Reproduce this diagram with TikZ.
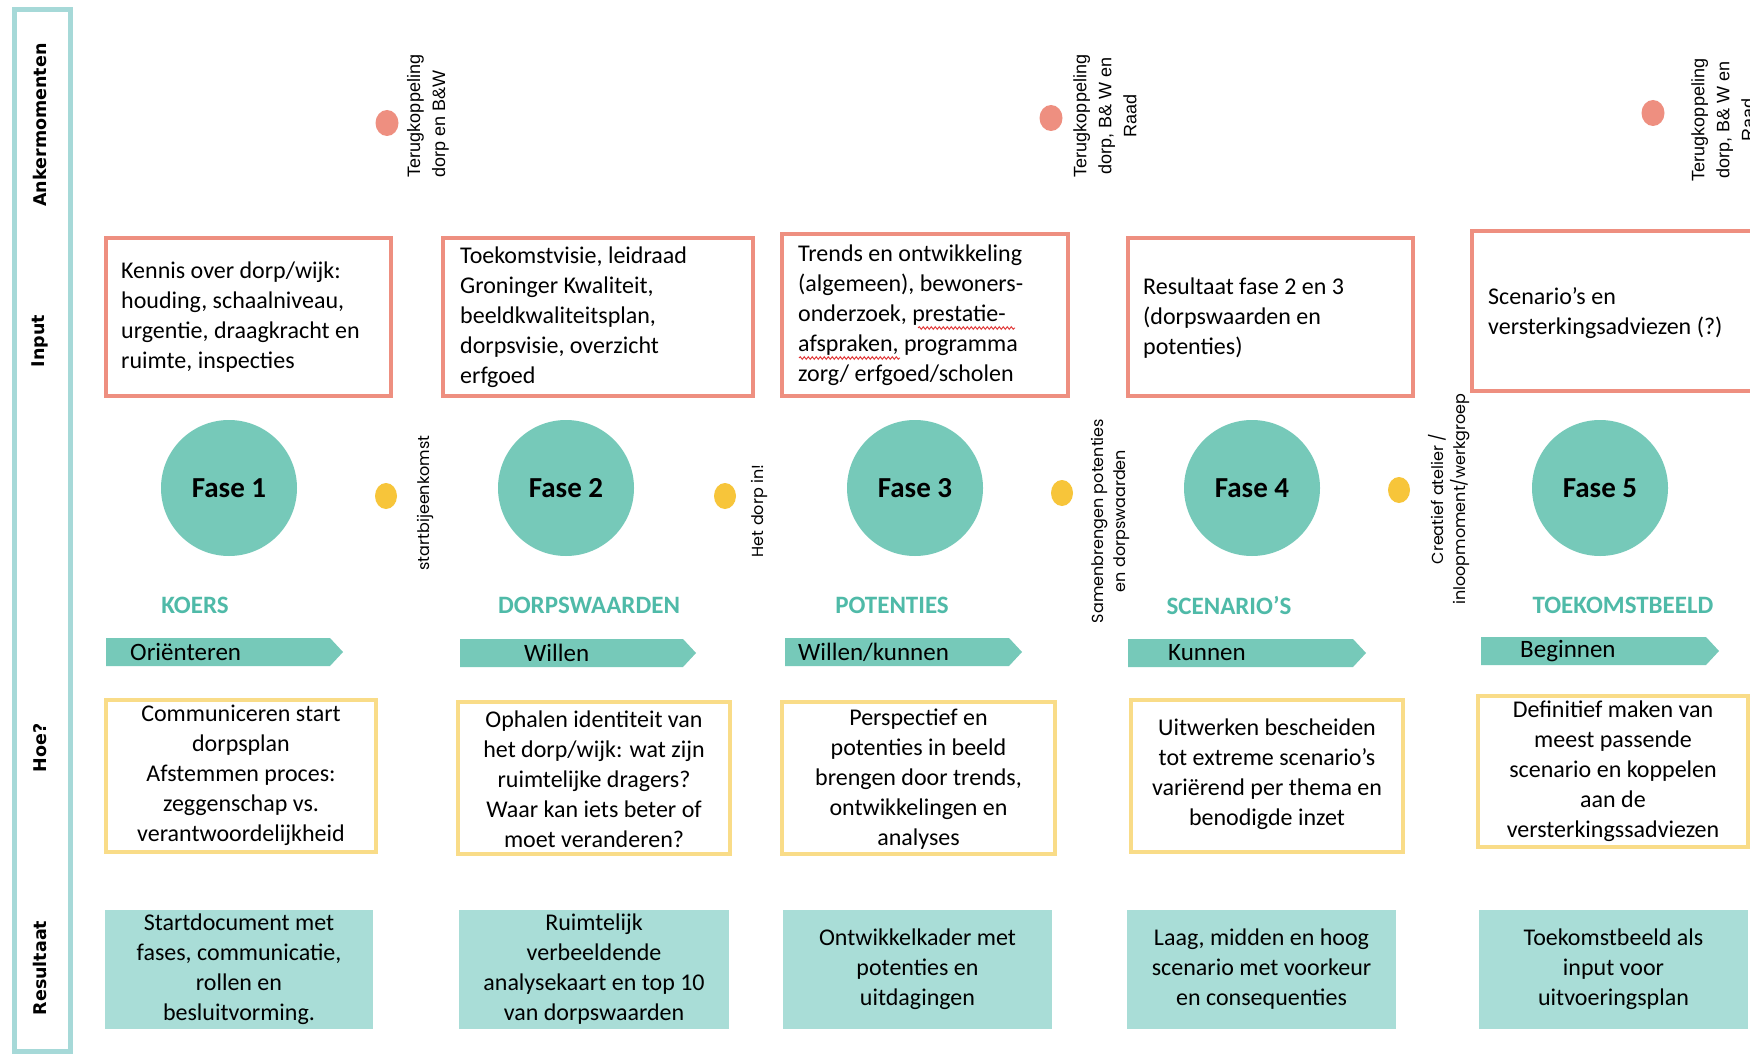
\documentclass[tikz,border=0pt]{standalone}
\usepackage{fontspec}
\setmainfont{Carlito}
\newfontfamily\labfont{DejaVu Sans}
\newfontfamily\geofont{Poppins}
\newfontfamily\arialfont{Liberation Sans}
\usetikzlibrary{shapes.geometric,decorations.pathmorphing}
\definecolor{salmon}{HTML}{EE8F80}
\definecolor{tealc}{HTML}{76C9B9}
\definecolor{tealtext}{HTML}{4FBAA8}
\definecolor{resfill}{HTML}{A9DDD7}
\definecolor{sidebarc}{HTML}{A6D9D8}
\definecolor{yline}{HTML}{F9DC88}
\definecolor{ydot}{HTML}{F7C53A}
\definecolor{squig}{HTML}{E03030}
\tikzset{
  sidelab/.style={rotate=90, inner sep=0pt, font={\labfont\bfseries\fontsize{17.5}{20}\selectfont}},
  reddot/.style={ellipse, fill=salmon, draw=none, minimum width=23, minimum height=26, inner sep=0pt},
  yeldot/.style={ellipse, fill=ydot, draw=none, minimum width=22, minimum height=26, inner sep=0pt},
  ankerlab/.style={rotate=90, inner sep=0pt, font={\arialfont\fontsize{18}{25}\selectfont}},
  momlab/.style={rotate=90, inner sep=0pt, align=center, font={\geofont\fontsize{16}{22}\selectfont}},
  inbox/.style={rectangle, draw=salmon, line width=3.5pt, fill=white, inner sep=0pt},
  intext/.style={anchor=west, inner sep=0pt, align=left, font={\fontsize{24}{30}\selectfont}},
  fase/.style={circle, fill=tealc, draw=none, minimum size=136, inner sep=0pt, font={\bfseries\fontsize{29}{34}\selectfont}},
  fasename/.style={inner sep=0pt, text=tealtext, font={\bfseries\fontsize{25}{30}\selectfont}},
  bantext/.style={anchor=west, inner sep=0pt, font={\fontsize{25}{30}\selectfont}},
  hoebox/.style={rectangle, draw=yline, line width=3.5pt, fill=white, inner sep=0pt},
  resbox/.style={rectangle, fill=resfill, draw=none, inner sep=0pt},
  boxtext/.style={inner sep=0pt, align=center, font={\fontsize{24}{30}\selectfont}},
  wavy/.style={draw=squig, line width=0.9pt, decorate, decoration={snake, amplitude=1.3pt, segment length=4pt}},
}
\begin{document}
\begin{tikzpicture}[x=1pt,y=-1pt]
\useasboundingbox (0,0) rectangle (1750,1054);
\fill[white] (0,0) rectangle (1750,1054);

% side bar
\draw[sidebarc, line width=5pt] (14.5,9.5) rectangle (70.5,1051);
\node[sidelab] (lanker) at (40,125) {Ankermomenten};
\node[sidelab] (linput) at (40,341) {Input};
\node[sidelab] (lhoe) at (40,748) {Hoe?};
\node[sidelab] (lres) at (40,968) {Resultaat};

% ankermomenten
\node[reddot] (rd1) at (387,123) {};
\node[reddot] (rd2) at (1051,118) {};
\node[reddot] (rd3) at (1653,113) {};
\node[ankerlab, align=left] (ra1) at (428,116) {Terugkoppeling\\dorp en B\&W};
\node[ankerlab, align=center] (ra2) at (1105,116) {Terugkoppeling\\dorp, B\& W en\\Raad};
\node[ankerlab, align=center] (ra3) at (1723,120) {Terugkoppeling\\dorp, B\& W en\\Raad};

% input boxes
\node[inbox, minimum width=285, minimum height=158] (in1) at (248.5,317) {};
\node[inbox, minimum width=310, minimum height=158] (in2) at (598,317) {};
\node[inbox, minimum width=286, minimum height=162] (in3) at (925,315) {};
\node[inbox, minimum width=285, minimum height=158] (in4) at (1270.5,317) {};
\node[inbox, minimum width=288, minimum height=160] (in5) at (1616,311) {};
\node[intext] (in1t) at (121,317) {Kennis over dorp/wijk:\\houding, schaalniveau,\\urgentie, draagkracht en\\ruimte, inspecties};
\node[intext] (in2t) at (460,317) {Toekomstvisie, leidraad\\Groninger Kwaliteit,\\beeldkwaliteitsplan,\\dorpsvisie, overzicht\\erfgoed};
\node[intext] (in3t) at (798,315) {Trends en ontwikkeling\\(algemeen), bewoners-\\onderzoek, prestatie-\\afspraken, programma\\zorg/ erfgoed/scholen};
\node[intext] (in4t) at (1143,318) {Resultaat fase 2 en 3\\(dorpswaarden en\\potenties)};
\node[intext] (in5t) at (1488,313) {Scenario’s en\\versterkingsadviezen (?)};
\draw[wavy] (918,328) -- (1015,328);
\draw[wavy] (799,358) -- (900,358);

% phases
\node[fase] (f1) at (229,488) {Fase 1};
\node[fase] (f2) at (566,488) {Fase 2};
\node[fase] (f3) at (915,488) {Fase 3};
\node[fase] (f4) at (1252,488) {Fase 4};
\node[fase] (f5) at (1600,488) {Fase 5};

% moments between phases
\node[yeldot] (yd1) at (386,496) {};
\node[yeldot] (yd2) at (725,496) {};
\node[yeldot] (yd3) at (1062,493) {};
\node[yeldot] (yd4) at (1399,490) {};
\node[momlab] (ym1) at (425,503) {startbijeenkomst};
\node[momlab] (ym2) at (759,511) {Het dorp in!};
\node[momlab] (ym3) at (1110,521) {Samenbrengen potenties\\en dorpswaarden};
\node[momlab] (ym4) at (1449,499) {Creatief atelier /\\inloopmoment/werkgroep};

% phase names
\node[fasename] (n1) at (195,605) {KOERS};
\node[fasename] (n2) at (589,605) {DORPSWAARDEN};
\node[fasename] (n3) at (892,605) {POTENTIES};
\node[fasename] (n4) at (1229,605) {SCENARIO’S};
\node[fasename] (n5) at (1623,605) {TOEKOMSTBEELD};

% banners
\fill[tealc] (106,638) -- (330,638) -- (343,652) -- (330,666) -- (106,666) -- cycle;
\fill[tealc] (460,639) -- (683,639) -- (696,653) -- (683,667) -- (460,667) -- cycle;
\fill[tealc] (785,638) -- (1009,638) -- (1022,652) -- (1009,666) -- (785,666) -- cycle;
\fill[tealc] (1128,639) -- (1353,639) -- (1366,653) -- (1353,667) -- (1128,667) -- cycle;
\fill[tealc] (1481,637) -- (1706,637) -- (1719,651) -- (1706,665) -- (1481,665) -- cycle;
\node[bantext] (b1) at (130,652) {Oriënteren};
\node[bantext] (b2) at (524,653) {Willen};
\node[bantext] (b3) at (798,652) {Willen/kunnen};
\node[bantext] (b4) at (1168,653) {Kunnen};
\node[bantext] (b5) at (1520,651) {Beginnen};

% hoe boxes
\node[hoebox, minimum width=270, minimum height=152] (h1) at (241,776) {};
\node[hoebox, minimum width=272, minimum height=152] (h2) at (594,778) {};
\node[hoebox, minimum width=273, minimum height=152] (h3) at (918.5,778) {};
\node[hoebox, minimum width=272, minimum height=152] (h4) at (1267,776) {};
\node[hoebox, minimum width=270, minimum height=151] (h5) at (1613,771.5) {};
\node[boxtext] (h1t) at (241,775) {Communiceren start\\dorpsplan\\Afstemmen proces:\\zeggenschap vs.\\verantwoordelijkheid};
\node[boxtext] (h2t) at (594,779) {Ophalen identiteit van\\het dorp/wijk: wat zijn\\ruimtelijke dragers?\\Waar kan iets beter of\\moet veranderen?};
\node[boxtext] (h3t) at (918.5,779) {Perspectief en\\potenties in beeld\\brengen door trends,\\ontwikkelingen en\\analyses};
\node[boxtext] (h4t) at (1267,774) {Uitwerken bescheiden\\tot extreme scenario’s\\variërend per thema en\\benodigde inzet};
\node[boxtext] (h5t) at (1613,771) {Definitief maken van\\meest passende\\scenario en koppelen\\aan de\\versterkingssadviezen};

% result boxes
\node[resbox, minimum width=268, minimum height=119] (r1) at (239,969.5) {};
\node[resbox, minimum width=270, minimum height=119] (r2) at (594,969.5) {};
\node[resbox, minimum width=269, minimum height=119] (r3) at (917.5,969.5) {};
\node[resbox, minimum width=269, minimum height=119] (r4) at (1261.5,969.5) {};
\node[resbox, minimum width=269, minimum height=119] (r5) at (1613.5,969.5) {};
\node[boxtext] (r1t) at (239,969.5) {Startdocument met\\fases, communicatie,\\rollen en\\besluitvorming.};
\node[boxtext] (r2t) at (594,969.5) {Ruimtelijk\\verbeeldende\\analysekaart en top 10\\van dorpswaarden};
\node[boxtext] (r3t) at (917.5,969.5) {Ontwikkelkader met\\potenties en\\uitdagingen};
\node[boxtext] (r4t) at (1261.5,969.5) {Laag, midden en hoog\\scenario met voorkeur\\en consequenties};
\node[boxtext] (r5t) at (1613.5,969.5) {Toekomstbeeld als\\input voor\\uitvoeringsplan};
\end{tikzpicture}
\end{document}
